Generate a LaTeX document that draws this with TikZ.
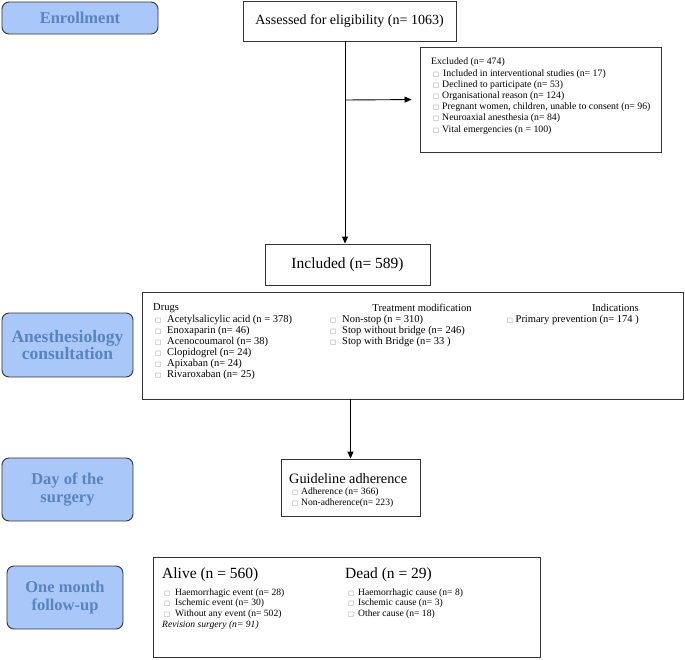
\documentclass[tikz,border=0pt]{standalone}
\usepackage{fontspec}
\setmainfont{Liberation Serif}
\newfontfamily\symf{DejaVu Sans}
\usetikzlibrary{arrows.meta}
\definecolor{lblfill}{HTML}{A9C7F8}
\definecolor{lbltext}{HTML}{5A84BE}
\definecolor{edgec}{HTML}{333333}
\definecolor{bulc}{HTML}{8A8A8A}
\newcommand{\sqb}{{\color{bulc}\symf\fontsize{6.5}{6.5}\selectfont □}}
\newcommand{\itm}[2]{\makebox[#1][l]{\sqb}#2}
\begin{document}
\begin{tikzpicture}[x=1pt,y=-1pt,
  stage/.style={draw=edgec, fill=lblfill, rounded corners=7pt, line width=0.9pt,
    text=lbltext, font=\bfseries\fontsize{16.5}{17.5}\selectfont, align=center, inner sep=0pt},
  box/.style={draw=edgec, line width=0.9pt, inner sep=0pt},
  txt/.style={anchor=west, inner sep=0pt},
  exf/.style={txt, font=\fontsize{9.8}{11}\selectfont},
  cof/.style={txt, font=\fontsize{10.5}{12}\selectfont},
  ouf/.style={txt, font=\fontsize{9.6}{11}\selectfont},
  arr/.style={-{Triangle[length=7pt,width=6pt]}, line width=0.9pt, draw=black}
]
\useasboundingbox (0,0) rectangle (685,659);

% stage labels
\node[stage, minimum width=156pt, minimum height=32pt] (enroll) at (80,18) {Enrollment};
\node[stage, minimum width=131pt, minimum height=64pt, font=\bfseries\fontsize{17.5}{17.5}\selectfont] (anest) at (67.5,345) {Anesthesiology\\consultation};
\node[stage, minimum width=131pt, minimum height=63pt] (day) at (67.5,489.5) {Day of the\\surgery};
\node[stage, minimum width=116pt, minimum height=63pt] (month) at (65,597.5) {One month\\follow-up};

% main boxes
\node[box, minimum width=213pt, minimum height=40pt, font=\fontsize{14}{16}\selectfont] (assess) at (349.5,21) {Assessed for eligibility (n= 1063)};
\node[box, minimum width=241pt, minimum height=105pt] (excl) at (540.5,99.5) {};
\node[box, minimum width=165pt, minimum height=41pt, font=\fontsize{15.5}{17}\selectfont] (incl) at (347.5,264.5) {Included (n= 589)};
\node[box, minimum width=541pt, minimum height=107pt] (consult) at (412.5,345.5) {};
\node[box, minimum width=139pt, minimum height=57pt] (guide) at (350.5,487.5) {};
\node[box, minimum width=387pt, minimum height=100pt] (outc) at (346.5,607) {};

% connectors
\coordinate (br) at (345,100);
\draw[arr] (assess.south -| br) -- (incl.north -| br);
\draw[arr, shorten >=8pt] (br) -- (excl.west);
\draw[arr] (consult.south -| guide.north) -- (guide.north);

% excluded text
\node[exf] (e0) at (431,62.5) {Excluded (n= 474)};
\node[exf] (e1) at (433,74) {\itm{10pt}{Included in interventional studies (n= 17)}};
\node[exf] (e2) at (433,85) {\itm{9pt}{Declined to participate (n= 53)}};
\node[exf] (e3) at (433,96) {\itm{9pt}{Organisational reason (n= 124)}};
\node[exf] (e4) at (433,107.5) {\itm{9pt}{Pregnant women, children, unable to consent (n= 96)}};
\node[exf] (e5) at (433,118.5) {\itm{9pt}{Neuroaxial anesthesia (n= 84)}};
\node[exf] (e6) at (433,130) {\itm{9pt}{Vital emergencies (n = 100)}};

% consultation text
\node[cof] (dh) at (153,308) {Drugs};
\node[cof] (d1) at (155,319.5) {\itm{12pt}{Acetylsalicylic acid (n = 378)}};
\node[cof] (d2) at (155,331) {\itm{12pt}{Enoxaparin (n= 46)}};
\node[cof] (d3) at (155,342) {\itm{12pt}{Acenocoumarol (n= 38)}};
\node[cof] (d4) at (155,353) {\itm{12pt}{Clopidogrel (n= 24)}};
\node[cof] (d5) at (155,364) {\itm{12pt}{Apixaban (n= 24)}};
\node[cof] (d6) at (155,375) {\itm{12pt}{Rivaroxaban (n= 25)}};
\node[cof, anchor=center] (th) at (422,308) {Treatment modification};
\node[cof] (t1) at (330,319.5) {\itm{12pt}{Non-stop (n = 310)}};
\node[cof] (t2) at (330,331) {\itm{12pt}{Stop without bridge (n= 246)}};
\node[cof] (t3) at (330,342) {\itm{12pt}{Stop with Bridge (n= 33 )}};
\node[cof, anchor=east] (ih) at (639,308) {Indications};
\node[cof, anchor=east] (i1) at (639,319.5) {\sqb\ Primary prevention (n= 174 )};

% guideline text
\node[txt, font=\fontsize{14.3}{16}\selectfont] (gh) at (289,479) {Guideline adherence};
\node[ouf] (g1) at (292,492) {\itm{9pt}{Adherence (n= 366)}};
\node[ouf] (g2) at (292,503) {\itm{9pt}{Non-adherence(n= 223)}};

% outcome text
\node[txt, font=\fontsize{15.5}{17}\selectfont] (ah) at (162,575) {Alive (n = 560)};
\node[ouf] (a1) at (164,593) {\itm{11pt}{Haemorrhagic event (n= 28)}};
\node[ouf] (a2) at (164,603.5) {\itm{11pt}{Ischemic event (n= 30)}};
\node[ouf] (a3) at (164,614) {\itm{11pt}{Without any event (n= 502)}};
\node[ouf, font=\itshape\fontsize{9.6}{11}\selectfont] (rv) at (162,625) {Revision surgery (n= 91)};
\node[txt, font=\fontsize{15.5}{17}\selectfont] (dh2) at (345,575) {Dead (n = 29)};
\node[ouf] (x1) at (348,593) {\itm{10pt}{Haemorrhagic cause (n= 8)}};
\node[ouf] (x2) at (348,603.5) {\itm{10pt}{Ischemic cause (n= 3)}};
\node[ouf] (x3) at (348,614) {\itm{10pt}{Other cause (n= 18)}};
\end{tikzpicture}
\end{document}
